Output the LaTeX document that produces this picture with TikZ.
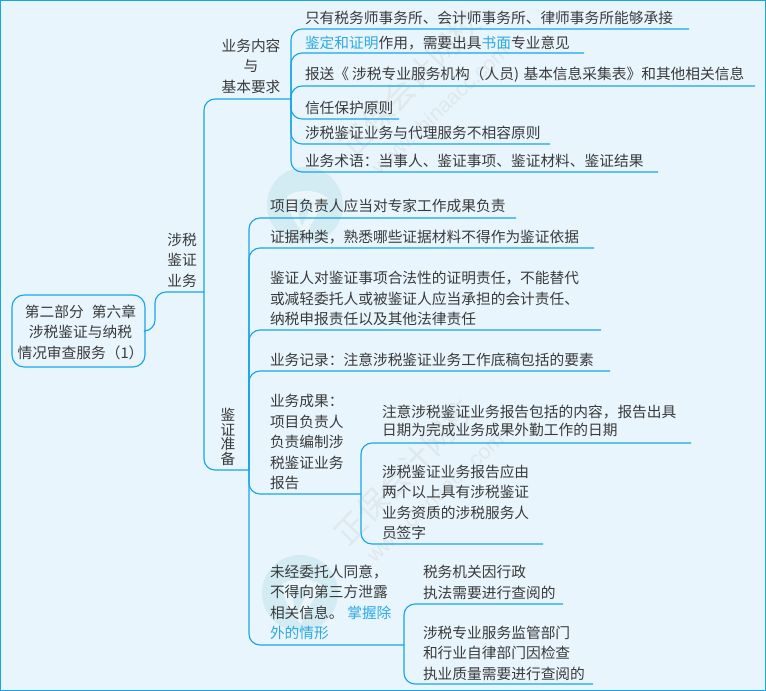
\documentclass[tikz,border=0pt]{standalone}
\usepackage{fontspec}
\setmainfont{Noto Sans CJK SC}
\newfontfamily\wmlatin{Liberation Sans}
\definecolor{bgc}{HTML}{E8F5FD}
\definecolor{linec}{HTML}{18A5E8}
\definecolor{txt}{HTML}{3A3A3A}
\definecolor{hl}{HTML}{2CA9E6}
\definecolor{wmc}{HTML}{DFE8EC}
\definecolor{logoc}{HTML}{D3ECF4}
\newcommand{\hlt}[1]{\textcolor{hl}{#1}}
\tikzset{
  conn/.style={draw=linec,line width=1.15pt,rounded corners=11pt},
  lbl/.style={anchor=west,inner sep=0pt,outer sep=0pt,align=left,text=txt,font=\fontsize{14.72}{20.5}\selectfont},
  ctr/.style={lbl,anchor=center,align=center},
  wmbig/.style={text=wmc,rotate=46,inner sep=0pt,font=\fontsize{31}{31}\selectfont},
  wmsmall/.style={text=wmc,rotate=43,inner sep=0pt,font=\wmlatin\fontsize{21}{21}\selectfont},
  logocircle/.style={fill=logoc,draw=none},
}
\begin{document}
\begin{tikzpicture}[x=1pt,y=-1pt]
\useasboundingbox (0,0) rectangle (766,691);
\fill[bgc] (0,0) rectangle (766,691);
\draw[linec,line width=1.4pt] (0.7,0.7) rectangle (765.3,690.3);
% watermarks
\foreach \dx/\dy/\nm in {0/0/a,-5/388/b}{
  \begin{scope}[shift={(\dx,\dy)}]
    \fill[logocircle] (305,205) circle (38);
    \fill[white,opacity=.55] (287,196) .. controls (300,188) and (318,190) .. (328,198)
      .. controls (320,208) and (312,222) .. (306,236) .. controls (296,226) and (288,212) .. (287,196) -- cycle;
    \fill[logocircle] (296,200) .. controls (304,197) and (310,200) .. (313,204)
      .. controls (308,212) and (305,220) .. (302,226) .. controls (299,218) and (297,208) .. (296,200) -- cycle;
    \node[wmbig] (wm1\nm) at (410,84) {正保会计网校};
    \node[wmsmall] (wm2\nm) at (440,109) {www.chinaacc.com};
  \end{scope}
}
% root and branch nodes
\node[draw=linec,line width=1.15pt,rounded corners=12pt,minimum width=133pt,minimum height=72pt,inner sep=0pt,fill=none] (root) at (78.5,331) {};
\node[ctr] (roottxt) at (80.5,332) {第二部分\hspace{0.55em}第六章\\涉税鉴证与纳税\\情况审查服务（1）};
\node[ctr] (n1) at (182,260) {涉税\\鉴证\\业务};
\node[ctr] (n2) at (251,66) {业务内容\\与\\基本要求};
\node[ctr,font=\fontsize{14.72}{14.7}\selectfont] (n3) at (228,437) {鉴\\证\\准\\备};
% top group
\node[lbl] (a1) at (305,18) {只有税务师事务所、会计师事务所、律师事务所能够承接};
\node[lbl] (a2) at (305,43) {\hlt{鉴定和证明}作用，需要出具\hlt{书面}专业意见};
\node[lbl] (a3) at (305,75) {报送《\hspace{3pt}涉税专业服务机构（人员)\hspace{4.5pt}基本信息采集表》和其他相关信息};
\node[lbl] (a4) at (305,108) {信任保护原则};
\node[lbl] (a5) at (305,133) {涉税鉴证业务与代理服务不相容原则};
\node[lbl] (a6) at (305,161) {业务术语：当事人、鉴证事项、鉴证材料、鉴证结果};
% lower group
\node[lbl] (b1) at (270,206) {项目负责人应当对专家工作成果负责};
\node[lbl] (b2) at (270,237) {证据种类，熟悉哪些证据材料不得作为鉴证依据};
\node[lbl] (b3) at (270,298.5) {鉴证人对鉴证事项合法性的证明责任，不能替代\\或减轻委托人或被鉴证人应当承担的会计责任、\\纳税申报责任以及其他法律责任};
\node[lbl] (b4) at (270,360) {业务记录：注意涉税鉴证业务工作底稿包括的要素};
\node[lbl] (b5) at (270,442) {业务成果：\\项目负责人\\负责编制涉\\税鉴证业务\\报告};
\node[lbl,font=\fontsize{14.72}{18}\selectfont] (c1) at (382,421) {注意涉税鉴证业务报告包括的内容，报告出具\\日期为完成业务成果外勤工作的日期};
\node[lbl] (c2) at (382,502.5) {涉税鉴证业务报告应由\\两个以上具有涉税鉴证\\业务资质的涉税服务人\\员签字};
\node[lbl] (b6) at (270,602.5) {未经委托人同意，\\不得向第三方泄露\\相关信息。\hspace{0.25em}\hlt{掌握除}\\\hlt{外的情形}};
\node[lbl] (d1) at (423,582.5) {税务机关因行政\\执法需要进行查阅的};
\node[lbl] (d2) at (423,653) {涉税专业服务监管部门\\和行业自律部门因检查\\执业质量需要进行查阅的};
% junction and line-end coordinates
\coordinate (jroot) at (155,331);
\coordinate (j1) at (204,292);
\coordinate (j2) at (291,99);
\coordinate (j3) at (249,470);
\coordinate (j5) at (361,494);
\coordinate (j6) at (404,645);
\coordinate (ea1) at (689,29);
\coordinate (ea2) at (584,53);
\coordinate (ea3) at (755,86);
\coordinate (ea4) at (399,119);
\coordinate (ea5) at (550,144);
\coordinate (ea6) at (658,172);
\coordinate (eb1) at (516,218);
\coordinate (eb2) at (594,248);
\coordinate (eb3) at (601,330);
\coordinate (eb4) at (610,371);
\coordinate (ec1) at (691,443);
\coordinate (ec2) at (543,544);
\coordinate (ed1) at (563,604);
\coordinate (ed2) at (593,684);
% connectors
\draw[conn] (root.east |- jroot) -- (jroot) |- (j1);
\draw[conn] (j1) |- (j2);
\draw[conn] (j1) |- (j3);
\foreach \n in {1,...,6}{ \draw[conn] (j2) |- (ea\n); }
\foreach \n in {1,...,4}{ \draw[conn] (j3) |- (eb\n); }
\draw[conn] (j3) |- (j5);
\draw[conn] (j3) |- (j6);
\foreach \n in {1,2}{ \draw[conn] (j5) |- (ec\n); \draw[conn] (j6) |- (ed\n); }
\end{tikzpicture}
\end{document}
